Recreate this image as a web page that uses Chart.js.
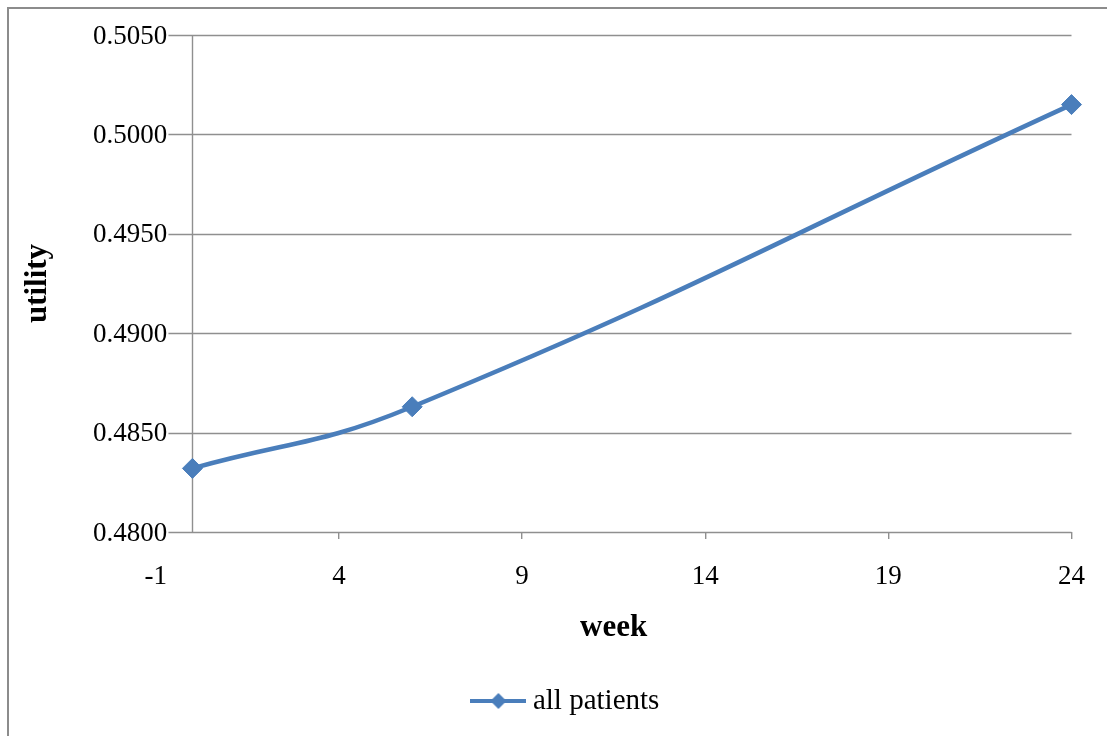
<!DOCTYPE html>
<html>
<head>
<meta charset="utf-8">
<script src="https://cdn.jsdelivr.net/npm/chart.js@4.4.1/dist/chart.umd.min.js"></script>
<style>
  html, body { margin: 0; padding: 0; background: #fff; }
  #wrap { position: relative; width: 1107px; height: 736px; overflow: hidden; }
  #wrap canvas { position: absolute; left: 0; top: 0; }
  #frame { position: absolute; left: 7px; top: 7px; right: -10px; bottom: -10px;
           border-left: 2px solid #8c8c8c; border-top: 2px solid #8c8c8c; pointer-events: none; }
</style>
</head>
<body>
<div id="wrap">
  <canvas id="chart" width="1107" height="736"></canvas>
  <div id="frame"></div>
</div>
<script>
// Utility score by study week
const weeks = [0, 6, 24];
const utility = [0.4832, 0.4863, 0.5015];
const seriesName = 'all patients';

// Axis ticks
const xTicks = [-1, 4, 9, 14, 19, 24];
const yTicks = [0.4800, 0.4850, 0.4900, 0.4950, 0.5000, 0.5050];

const BLUE = '#4a7ebb';
const GRID = '#8f8f8f';
const SERIF = '"Liberation Serif", "Times New Roman", serif';

// Legend symbol: line segment with a diamond marker
function legendSymbol() {
  const c = document.createElement('canvas');
  c.width = 56; c.height = 18;
  const g = c.getContext('2d');
  g.strokeStyle = BLUE; g.lineWidth = 4;
  g.beginPath(); g.moveTo(0, 9); g.lineTo(56, 9); g.stroke();
  g.fillStyle = BLUE;
  g.beginPath(); g.moveTo(20, 9); g.lineTo(28, 1); g.lineTo(36, 9); g.lineTo(28, 17); g.closePath(); g.fill();
  return c;
}

// Horizontal gridlines, axis line at week 0, legend offset
const axisLines = {
  id: 'axisLines',
  afterLayout(chart) {
    const lg = chart.legend;
    if (lg) { lg.left += 28; lg.right += 28; }
  },
  beforeDatasetsDraw(chart) {
    const { ctx, chartArea, scales: { x, y } } = chart;
    const x0 = x.getPixelForValue(0);
    const start = x0 - 24;
    ctx.save();
    ctx.strokeStyle = GRID;
    ctx.lineWidth = 1.4;
    yTicks.forEach(v => {
      const py = Math.round(y.getPixelForValue(v)) + 0.5;
      ctx.beginPath(); ctx.moveTo(start, py); ctx.lineTo(chartArea.right, py); ctx.stroke();
    });
    const px = Math.round(x0) + 0.5;
    ctx.beginPath(); ctx.moveTo(px, chartArea.top); ctx.lineTo(px, chartArea.bottom); ctx.stroke();
    ctx.restore();
  }
};

new Chart(document.getElementById('chart'), {
  type: 'line',
  data: {
    datasets: [{
      label: seriesName,
      data: weeks.map((w, i) => ({ x: w, y: utility[i] })),
      borderColor: BLUE,
      backgroundColor: BLUE,
      borderWidth: 4.5,
      tension: 0.45,
      pointStyle: 'rectRot',
      pointRadius: 10,
      pointBorderWidth: 1,
      pointBackgroundColor: BLUE,
      pointBorderColor: BLUE,
      clip: false,
      fill: false
    }]
  },
  options: {
    responsive: false,
    animation: false,
    devicePixelRatio: 1,
    layout: { padding: { left: 10, right: 35.2, top: 35, bottom: 10.5 } },
    scales: {
      x: {
        type: 'linear',
        min: -1,
        max: 24,
        afterBuildTicks: s => { s.ticks = xTicks.map(v => ({ value: v })); },
        afterFit: s => { s.height = 144.5; },
        grid: {
          display: true,
          drawOnChartArea: false,
          drawTicks: true,
          tickLength: 7,
          lineWidth: 1.4,
          color: c => (c.tick && c.tick.value === xTicks[0]) ? 'rgba(0,0,0,0)' : GRID
        },
        border: { display: false },
        ticks: {
          padding: 22,
          color: '#000',
          font: { family: SERIF, size: 27 },
          callback: v => String(v)
        },
        title: {
          display: true,
          text: 'week',
          color: '#000',
          font: { family: SERIF, size: 31, weight: 'bold' },
          padding: { top: 0, bottom: 30 }
        }
      },
      y: {
        type: 'linear',
        min: yTicks[0],
        max: yTicks[yTicks.length - 1],
        afterBuildTicks: s => { s.ticks = yTicks.map(v => ({ value: v })); },
        afterFit: s => { s.width = 145.8; },
        grid: { display: false, drawTicks: false },
        border: { display: false },
        ticks: {
          mirror: true,
          padding: -62.8,
          labelOffset: 1.5,
          color: '#000',
          font: { family: SERIF, size: 27 },
          callback: v => Number(v).toFixed(4)
        },
        title: {
          display: true,
          text: 'utility',
          color: '#000',
          font: { family: SERIF, size: 31, weight: 'bold' },
          padding: { top: 9, bottom: 0 }
        }
      }
    },
    plugins: {
      legend: {
        display: true,
        position: 'bottom',
        labels: {
          usePointStyle: true,
          pointStyle: legendSymbol(),
          pointStyleWidth: 40,
          color: '#000',
          font: { family: SERIF, size: 29 },
          padding: 10
        }
      },
      tooltip: { enabled: false }
    }
  },
  plugins: [axisLines]
});
</script>
</body>
</html>
